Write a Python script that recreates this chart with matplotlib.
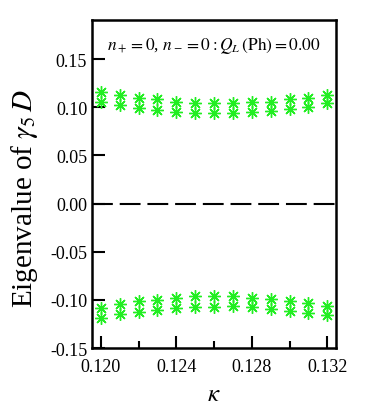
import matplotlib
matplotlib.use("Agg")
import matplotlib.pyplot as plt
import numpy as np

kappa = [0.120, 0.121, 0.122, 0.123, 0.124, 0.125, 0.126, 0.127, 0.128, 0.129, 0.130, 0.131, 0.132]
pos_upper = [0.1159, 0.1128, 0.1101, 0.1090, 0.1059, 0.1049, 0.1045, 0.1045, 0.1059, 0.1059, 0.1090, 0.1101, 0.1132]
pos_lower = [0.1055, 0.1021, 0.0993, 0.0976, 0.0951, 0.0941, 0.0941, 0.0941, 0.0955, 0.0965, 0.0986, 0.1007, 0.1042]
neg_upper = [-0.1087, -0.1042, -0.1014, -0.0997, -0.0976, -0.0958, -0.0965, -0.0958, -0.0979, -0.0990, -0.1014, -0.1035, -0.1059]
neg_lower = [-0.1191, -0.1149, -0.1122, -0.1107, -0.1087, -0.1076, -0.1070, -0.1059, -0.1076, -0.1094, -0.1118, -0.1132, -0.1156]

yticks = [-0.15, -0.10, -0.05, 0.00, 0.05, 0.10, 0.15]
xticks = [0.120, 0.124, 0.128, 0.132]

plt.rcParams['font.family'] = ['Liberation Serif', 'DejaVu Serif']
plt.rcParams['mathtext.fontset'] = 'stix'

fig = plt.figure(figsize=(3.82, 4.14), dpi=100)
ax = fig.add_axes([0.241, 0.157, 0.639, 0.792])

mk = (8, 2, 0)
for ser in (pos_upper, pos_lower, neg_upper, neg_lower):
    ax.plot(kappa, ser, linestyle='none', marker=mk, markersize=9,
            markeredgewidth=1.0, color='#22ee22')

ax.axhline(0.0, color='black', lw=1.5, dashes=(10, 3.3))

ax.set_xlim(0.11954, 0.13247)
ax.set_ylim(-0.15, 0.1906)
ax.set_xticks(xticks)
ax.set_xticks([0.122, 0.126, 0.130], minor=True)
ax.set_xticklabels(['%.3f' % v for v in xticks])
ax.set_yticks(yticks)
ax.set_yticklabels(['%.2f' % v for v in yticks])
ax.tick_params(axis='both', which='major', direction='in', length=9, width=1.5,
               labelsize=13, top=False, right=False)
ax.tick_params(axis='x', which='major', pad=7)
ax.tick_params(axis='x', which='minor', direction='in', length=5, width=1.5)
for s in ax.spines.values():
    s.set_linewidth(1.8)

ax.set_ylabel(r'Eigenvalue of $\gamma_5\,D$', fontsize=21)
ax.yaxis.set_label_coords(-0.215, 0.46)
ax.set_xlabel(r'$\kappa$', fontsize=18, labelpad=6)

ax.text(0.5, 0.925, r'$n_+ = 0$, $n_- = 0 : Q_L\,(\mathrm{Ph}) = 0.00$',
        transform=ax.transAxes, ha='center', va='center', fontsize=12.5)

fig.savefig('out.png', dpi=100)
